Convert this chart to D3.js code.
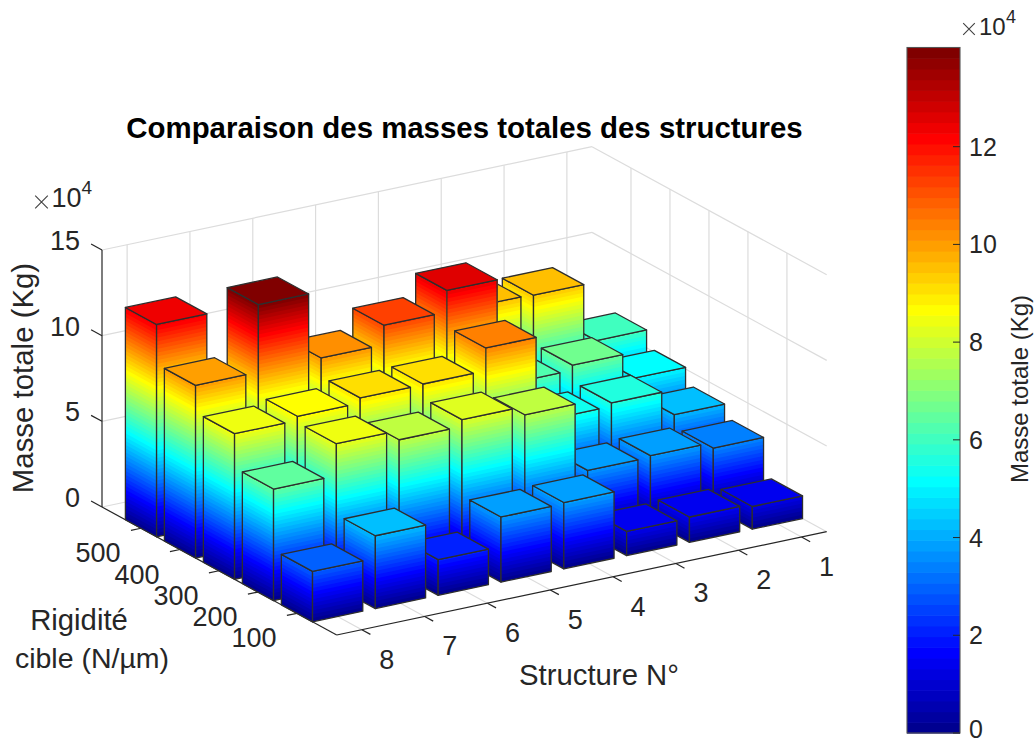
<!DOCTYPE html>
<html><head><meta charset="utf-8">
<script src="https://cdn.jsdelivr.net/npm/d3@7"></script>
<style>html,body{margin:0;padding:0;background:#fff}svg{display:block}text{font-family:"Liberation Sans",Arial,sans-serif;fill:#262626}</style>
</head><body><div id="chart"></div>
<script>
// Values in units of 10^4 Kg, index = structure 1..8
const structures = [1,2,3,4,5,6,7,8];
const rigidityTicks = [100,200,300,400,500];
const mass100 = [1.32,1.48,1.41,3.87,3.80,2.08,4.25,2.94];
const mass200 = [3.49,3.82,3.73,7.75,8.24,7.84,8.38,6.51];
const mass300 = [4.20,5.66,5.46,10.41,9.08,9.04,8.74,8.50];
const mass400 = [5.10,6.62,6.32,12.53,11.27,10.13,14.02,10.08];
const mass500 = [6.04,9.46,9.52,7.00,7.50,8.00,7.00,12.39];
const massRows = [mass100,mass200,mass300,mass400,mass500];
const zTicks = [0,5,10,15];
const cbTicks = [0,2,4,6,8,10,12];
const cMax = 14.03;
const barHalf = 0.4;
const jetStops = [0,8/64,24/64,40/64,56/64,1];
const jetColors = ["#000080","#0000ff","#00ffff","#ffff00","#ff0000","#800000"];

const W=1036,H=742;
const svg=d3.select("#chart").append("svg").attr("width",W).attr("height",H).attr("viewBox",`0 0 ${W} ${H}`);

const xLim=[8.4,0.6], yLim=[-0.02,6.0], zLim=[0,15];
const sx=d3.scaleLinear().domain(xLim).range([0,1]);
const sy=d3.scaleLinear().domain(yLim).range([0,1]);
const sz=d3.scaleLinear().domain(zLim).range([0,-257]);
const origin=[336.7,635], xVec=[490,-103.3], yVec=[-234.7,-128];
const P=(x,y,z)=>[origin[0]+xVec[0]*sx(x)+yVec[0]*sy(y), origin[1]+xVec[1]*sx(x)+yVec[1]*sy(y)+sz(z)];
const line=d3.line();
const closed=pts=>line(pts)+"Z";

const jet=d3.scaleLinear().domain(jetStops).range(jetColors).interpolate(d3.interpolateRgb);
const levels=d3.range(64).map(i=>jet((i+1)/64));
const levelScale=d3.scaleQuantize().domain([0,cMax]).range(levels);
const levelH=cMax/64;

const GRID="#dcdcdc",AX="#262626";
const grid=svg.append("g").attr("fill","none").attr("stroke",GRID).attr("stroke-width",1.2);
const gl=(a,b)=>grid.append("path").attr("d",line([a,b]));
const [xa,xb]=xLim,[ya,yb]=yLim;
zTicks.forEach(z=>{ gl(P(xa,yb,z),P(xb,yb,z)); gl(P(xb,yb,z),P(xb,ya,z)); });
structures.forEach(s=>{ gl(P(s,yb,0),P(s,yb,15)); gl(P(s,ya,0),P(s,yb,0)); });
d3.range(1,6).forEach(r=>{ gl(P(xb,r,0),P(xb,r,15)); gl(P(xa,r,0),P(xb,r,0)); });

// axes rulers
const ax=svg.append("g").attr("fill","none").attr("stroke",AX).attr("stroke-width",1.2);
const al=(a,b)=>ax.append("path").attr("d",line([a,b]));
al(P(xa,ya,0),P(xb,ya,0));
al(P(xa,ya,0),P(xa,yb,0));
al(P(xa,yb,0),P(xa,yb,15));
structures.forEach(s=>al(P(s,ya,0),P(s,ya-0.22,0)));
d3.range(1,6).forEach(r=>al(P(xa,r,0),P(xa+0.16,r,0)));
zTicks.forEach(z=>al(P(xa,yb,z),P(xa,yb+0.28,z)));

// bars painted back to front
const bars=svg.append("g");
const EDGE="#2e2e2e";
structures.forEach((s,si)=>{
  d3.range(4,-1,-1).forEach(ri=>{
    const h=massRows[ri][si], r=ri+1;
    const x0=s-barHalf,x1=s+barHalf,y0=r-barHalf,y1=r+barHalf;
    const g=bars.append("g");
    const faces=[
      (a,b)=>[P(x1,y0,a),P(x1,y1,a),P(x1,y1,b),P(x1,y0,b)],
      (a,b)=>[P(x1,y0,a),P(x0,y0,a),P(x0,y0,b),P(x1,y0,b)]
    ];
    faces.forEach(f=>{
      d3.range(0,64).forEach(i=>{
        const lo=i*levelH;
        if(lo>=h) return;
        g.append("path").attr("d",closed(f(lo,h))).attr("fill",levels[i]).attr("stroke","none");
      });
      g.append("path").attr("d",closed(f(0,h))).attr("fill","none").attr("stroke",EDGE).attr("stroke-width",1.3).attr("stroke-linejoin","round");
    });
    g.append("path").attr("d",closed([P(x1,y0,h),P(x1,y1,h),P(x0,y1,h),P(x0,y0,h)]))
      .attr("fill",levelScale(h)).attr("stroke",EDGE).attr("stroke-width",1.3).attr("stroke-linejoin","round");
  });
});

// tick labels
const TICK=27;
const lab=svg.append("g").attr("font-size",TICK);
structures.forEach(s=>{
  const p=P(s,ya,0);
  lab.append("text").attr("x",p[0]+25).attr("y",p[1]+39).attr("text-anchor","middle").text(s);
});
rigidityTicks.forEach((t,i)=>{
  const p=P(xa,i+1,0);
  lab.append("text").attr("x",p[0]-43).attr("y",p[1]+34).attr("text-anchor","middle").text(t);
});
zTicks.forEach(z=>{
  const p=P(xa,yb,z);
  lab.append("text").attr("x",80).attr("y",p[1]).attr("text-anchor","end").text(z);
});
function expo(cx,cy,r,x10,y,fs,x4,y4,fs4){
  const g=svg.append("g");
  g.append("path").attr("d",`M${cx-r},${cy-r}L${cx+r},${cy+r}M${cx-r},${cy+r}L${cx+r},${cy-r}`).attr("stroke","#404040").attr("stroke-width",1.1).attr("fill","none");
  g.append("text").attr("x",x10).attr("y",y).attr("font-size",fs).text("10");
  g.append("text").attr("x",x4).attr("y",y4).attr("font-size",fs4).text("4");
}
expo(41.5,202,6.3,51.5,207,27,81.6,194,19);
expo(969,29,5.8,979,35,24,1006,23,18);

// titles
svg.append("text").attr("x",464.5).attr("y",138).attr("text-anchor","middle").attr("font-size",29.4).attr("font-weight","bold").attr("style","fill:#000").text("Comparaison des masses totales des structures");
svg.append("text").attr("transform","translate(33,378) rotate(-90)").attr("text-anchor","middle").attr("font-size",29.4).text("Masse totale (Kg)");
svg.append("text").attr("x",599).attr("y",685).attr("text-anchor","middle").attr("font-size",29.3).text("Structure N°");
svg.append("text").attr("x",79).attr("y",630).attr("text-anchor","middle").attr("font-size",29.3).text("Rigidité");
svg.append("text").attr("x",92).attr("y",668).attr("text-anchor","middle").attr("font-size",28.5).text("cible (N/µm)");

// colorbar
const cb={x0:907,x1:960,y0:47.5,y1:733};
const cbScale=d3.scaleLinear().domain([0,cMax]).range([cb.y1,cb.y0]);
const cbG=svg.append("g");
levels.forEach((c,i)=>{
  cbG.append("rect").attr("x",cb.x0).attr("width",cb.x1-cb.x0)
    .attr("y",cbScale((i+1)*levelH)).attr("height",cbScale(i*levelH)-cbScale((i+1)*levelH)+0.6).attr("fill",c);
});
cbG.append("rect").attr("x",cb.x0).attr("y",cb.y0).attr("width",cb.x1-cb.x0).attr("height",cb.y1-cb.y0).attr("fill","none").attr("stroke","#555").attr("stroke-width",1.1);
cbTicks.forEach(t=>{
  const y=cbScale(t);
  cbG.append("line").attr("x1",cb.x1-7).attr("x2",cb.x1).attr("y1",y).attr("y2",y).attr("stroke",AX).attr("stroke-width",1);
  cbG.append("text").attr("x",969).attr("y",t===0?y+4.5:y+9).attr("font-size",25).text(t);
});
svg.append("text").attr("transform","translate(1028,389) rotate(-90)").attr("text-anchor","middle").attr("font-size",24).text("Masse totale (Kg)");
</script></body></html>
